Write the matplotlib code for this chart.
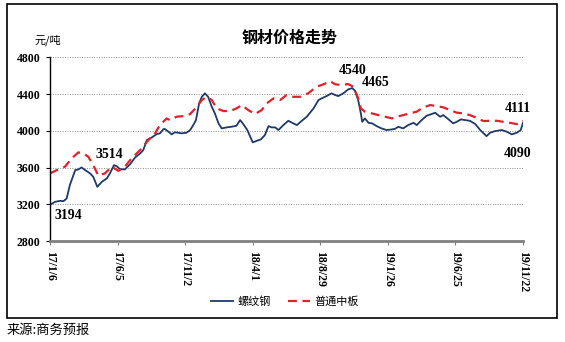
import numpy as np
import pandas as pd
import matplotlib
matplotlib.use("Agg")
import matplotlib.pyplot as plt
from matplotlib.patches import Rectangle

# -------------------------------
# Dane, dni od 2017-01-06
# -------------------------------
start = pd.Timestamp("2017-01-06")

rebar_days = [0, 11, 22, 30, 37, 44, 56, 63, 70, 78, 89, 96, 105, 115, 126, 133, 142, 148,
              155, 166, 178, 189, 200, 207, 215, 226, 237, 244, 252, 255, 263, 270, 277, 285,
              292, 303, 311, 318, 324, 331, 337, 344, 351, 359, 366, 374, 381, 392, 403, 414,
              422, 429, 438, 450, 459, 468, 477, 485, 492, 500, 507, 518, 529, 540, 548, 559,
              570, 585, 596, 603, 614, 625, 633, 640, 651, 662, 671, 677, 684, 690, 693, 699,
              707, 715, 725, 736, 747, 759, 766, 773, 784, 795, 807, 814, 825, 836, 847, 855,
              866, 873, 884, 895, 903, 912, 921, 932, 944, 955, 969, 977, 988, 1003, 1014,
              1025, 1036, 1045, 1050]
rebar = [3194, 3226, 3237, 3234, 3263, 3408, 3572, 3579, 3601, 3572, 3536, 3499, 3390, 3444,
         3481, 3536, 3626, 3615, 3583, 3579, 3637, 3710, 3753, 3790, 3899, 3928, 3964, 3972,
         4019, 4019, 3990, 3961, 3983, 3979, 3972, 3979, 4008, 4062, 4117, 4298, 4370, 4408,
         4370, 4262, 4190, 4081, 4026, 4037, 4044, 4055, 4117, 4073, 4008, 3874, 3891, 3906,
         3953, 4051, 4037, 4037, 4008, 4062, 4109, 4081, 4062, 4109, 4153, 4244, 4335, 4353,
         4378, 4408, 4389, 4378, 4408, 4451, 4465, 4436, 4335, 4190, 4098, 4135, 4087, 4081,
         4051, 4026, 4008, 4015, 4022, 4044, 4026, 4062, 4087, 4062, 4117, 4164, 4182, 4197,
         4153, 4171, 4127, 4081, 4098, 4124, 4117, 4109, 4073, 4008, 3942, 3979, 3997, 4008,
         3990, 3961, 3979, 4008, 4090]

plate_days = [0, 18, 33, 48, 63, 74, 85, 96, 107, 122, 137, 152, 166, 181, 200, 215, 233,
              244, 259, 266, 281, 296, 311, 326, 337, 348, 359, 370, 385, 400, 414, 426, 440,
              455, 470, 481, 496, 507, 511, 525, 540, 555, 573, 592, 607, 622, 633, 648, 662,
              673, 683, 690, 699, 714, 729, 744, 759, 770, 784, 799, 814, 829, 844, 858, 873,
              888, 903, 917, 932, 947, 962, 977, 992, 1006, 1021, 1036, 1047, 1050]
plate = [3536, 3579, 3608, 3699, 3765, 3754, 3717, 3626, 3514, 3536, 3608, 3564, 3608, 3699,
         3790, 3880, 3972, 4062, 4135, 4117, 4153, 4160, 4182, 4262, 4335, 4370, 4335, 4244,
         4215, 4215, 4244, 4280, 4226, 4182, 4226, 4298, 4353, 4342, 4335, 4389, 4370, 4370,
         4408, 4480, 4506, 4540, 4506, 4498, 4509, 4480, 4370, 4244, 4208, 4190, 4171, 4153,
         4135, 4153, 4171, 4190, 4208, 4255, 4280, 4269, 4255, 4226, 4197, 4190, 4171, 4142,
         4106, 4109, 4109, 4098, 4087, 4073, 4098, 4111]

tick_dates = ["2017-01-06", "2017-06-05", "2017-11-02", "2018-04-01",
              "2018-08-29", "2019-01-26", "2019-06-25", "2019-11-22"]
tick_labels = ["17/1/6", "17/6/5", "17/11/2", "18/4/1",
               "18/8/29", "19/1/26", "19/6/25", "19/11/22"]
y_ticks = [2800, 3200, 3600, 4000, 4400, 4800]

rebar_dates = start + pd.to_timedelta(rebar_days, unit="D")
plate_dates = start + pd.to_timedelta(plate_days, unit="D")

# -------------------------------
# Wykres
# -------------------------------
cjk = ["Noto Sans CJK SC", "DejaVu Sans"]
serif = "Liberation Serif"
blue = "#1f3a68"
red = "#e3212d"

fig = plt.figure(figsize=(5.65, 3.42), dpi=100)
ax = fig.add_axes([0.0885, 0.2953, 0.8372, 0.5371])

ax.plot(rebar_dates, rebar, color=blue, lw=1.3, label="螺纹钢")
ax.plot(plate_dates, plate, color=red, lw=1.6, dashes=(4, 2.5), label="普通中板")

ax.set_xlim(pd.Timestamp(tick_dates[0]), pd.Timestamp(tick_dates[-1]))
ax.set_ylim(2800, 4800)
ax.set_yticks(y_ticks)
ax.set_yticklabels([str(v) for v in y_ticks], fontfamily=serif, fontweight="bold", fontsize=8.5)
ax.set_xticks(pd.to_datetime(tick_dates))
ax.set_xticklabels(tick_labels, rotation=270, fontfamily=serif, fontweight="bold", fontsize=8.5)

for v in y_ticks[1:]:
    ax.axhline(v, color="#8c8c8c", lw=0.7, ls=(0, (1, 1.5)), zorder=0)

for s in ["top", "right"]:
    ax.spines[s].set_visible(False)
ax.spines["left"].set_color("black")
ax.spines["left"].set_linewidth(1.0)
ax.spines["bottom"].set_color("#808080")
ax.spines["bottom"].set_linewidth(2.0)
ax.tick_params(axis="y", direction="out", length=3, width=0.8, pad=4)
ax.tick_params(axis="x", direction="out", length=3, width=0.8, color="#808080", pad=4)

# Etykiety wartości
ann = dict(fontfamily=serif, fontweight="bold", fontsize=10, ha="center", va="center",
           textcoords="offset points")
ax.annotate("3194", (rebar_dates[0], rebar[0]), xytext=(13, -8), **ann)
ax.annotate("3514", (plate_dates[8], plate[8]), xytext=(8, 15), **ann)
ax.annotate("4540", (plate_dates[45], plate[45]), xytext=(16, 8), **ann)
ax.annotate("4465", (rebar_dates[76], rebar[76]), xytext=(16.5, 4), **ann)
ax.annotate("4111", (plate_dates[-1], plate[-1]), xytext=(-4, 9), **ann)
ax.annotate("4090", (rebar_dates[-1], rebar[-1]), xytext=(-4, -22), **ann)

fig.text(0.513, 0.89, "钢材价格走势", family=cjk, fontsize=11.5, fontweight="bold",
         ha="center", va="center")
fig.text(0.085, 0.883, "元/吨", family=cjk, fontsize=8, ha="center", va="center")

leg = fig.legend(loc="center", bbox_to_anchor=(0.504, 0.117), ncol=2, frameon=False,
                 prop={"family": cjk, "size": 8}, handlelength=2.0, columnspacing=1.5,
                 handletextpad=0.4)

fig.patches.append(Rectangle((7 / 565, 1 - 318 / 342), 550 / 565, 314 / 342,
                             transform=fig.transFigure, fill=False, ec="black", lw=1.2))
fig.text(7 / 565, 1 - 330 / 342, "来源:商务预报", family=cjk, fontsize=9.5,
         ha="left", va="center")

fig.savefig("out.png", dpi=100)
